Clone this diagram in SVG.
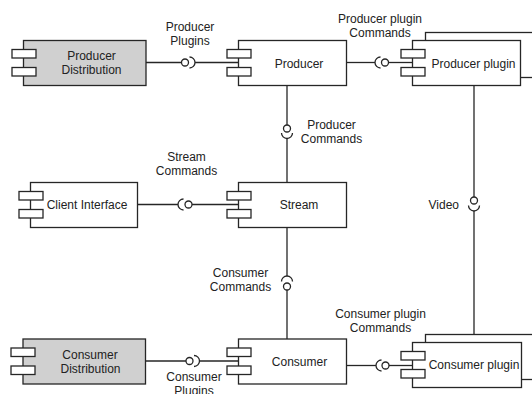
<svg xmlns="http://www.w3.org/2000/svg" width="532" height="394" viewBox="0 0 532 394">
<style>
  .box { fill: #ffffff; stroke: #262626; stroke-width: 1.3; }
  .dist { fill: #d0d0d0; stroke: #262626; stroke-width: 1.3; }
  .port { fill: #ffffff; stroke: #262626; stroke-width: 1.3; }
  .ln { fill: none; stroke: #262626; stroke-width: 1.3; }
  .ball { fill: #ffffff; stroke: #262626; stroke-width: 1.3; }
  text { font-family: "Liberation Sans", Arial, Helvetica, sans-serif; font-size: 12px; fill: #222222; text-anchor: middle; }
</style>
<rect width="532" height="394" fill="#ffffff"/>

<g id="connectors">
  <!-- Producer Distribution - Producer (Producer Plugins) -->
  <path class="ln" d="M146,62.5 H181.5"/>
  <circle class="ball" cx="185" cy="62.5" r="3.5"/>
  <path class="ln" d="M189.5,57 A5.5,5.5 0 0 1 189.5,68"/>
  <path class="ln" d="M195,62.5 H238.5"/>
  <!-- Producer - Producer plugin -->
  <path class="ln" d="M346.5,62.5 H375"/>
  <path class="ln" d="M380.5,57 A5.5,5.5 0 0 0 380.5,68"/>
  <circle class="ball" cx="385" cy="62.5" r="3.5"/>
  <path class="ln" d="M388.5,62.5 H412.5"/>
  <!-- Producer - Stream -->
  <path class="ln" d="M287,85.5 V125"/>
  <circle class="ball" cx="287" cy="128.5" r="3.5"/>
  <path class="ln" d="M281.5,133 A5.5,5.5 0 0 0 292.5,133"/>
  <path class="ln" d="M287,138.5 V182.5"/>
  <!-- Client Interface - Stream -->
  <path class="ln" d="M137.5,204.5 H178"/>
  <path class="ln" d="M183.5,199 A5.5,5.5 0 0 0 183.5,210"/>
  <circle class="ball" cx="188.5" cy="204.5" r="3.5"/>
  <path class="ln" d="M192,204.5 H238.5"/>
  <!-- Stream - Consumer -->
  <path class="ln" d="M287,227.5 V276"/>
  <path class="ln" d="M281.5,281.5 A5.5,5.5 0 0 1 292.5,281.5"/>
  <circle class="ball" cx="287" cy="286.5" r="3.5"/>
  <path class="ln" d="M287,290 V339"/>
  <!-- Consumer Distribution - Consumer -->
  <path class="ln" d="M145.5,361 H186"/>
  <circle class="ball" cx="189.5" cy="361" r="3.5"/>
  <path class="ln" d="M194,355.5 A5.5,5.5 0 0 1 194,366.5"/>
  <path class="ln" d="M199.5,361 H238.5"/>
  <!-- Consumer - Consumer plugin -->
  <path class="ln" d="M346.5,365.5 H376"/>
  <path class="ln" d="M381.5,360 A5.5,5.5 0 0 0 381.5,371"/>
  <circle class="ball" cx="385.5" cy="365.5" r="3.5"/>
  <path class="ln" d="M389,365.5 H412.5"/>
  <!-- Video -->
  <path class="ln" d="M474,85.5 V197"/>
  <circle class="ball" cx="474" cy="200.5" r="3.5"/>
  <path class="ln" d="M468.5,205.5 A5.5,5.5 0 0 0 479.5,205.5"/>
  <path class="ln" d="M474,211 V334.5"/>
</g>

<g id="labels">
  <text x="190" y="31">Producer</text>
  <text x="190" y="45">Plugins</text>
  <text x="380" y="22.5">Producer plugin</text>
  <text x="380" y="36.5">Commands</text>
  <text x="331.5" y="128.5">Producer</text>
  <text x="331.5" y="142.5">Commands</text>
  <text x="186.5" y="161">Stream</text>
  <text x="186.5" y="175">Commands</text>
  <text x="459" y="208.5" style="text-anchor:end">Video</text>
  <text x="240.5" y="276.5">Consumer</text>
  <text x="240.5" y="290.5">Commands</text>
  <text x="380.5" y="317.5">Consumer plugin</text>
  <text x="380.5" y="331.5">Commands</text>
  <text x="194" y="381">Consumer</text>
  <text x="194" y="395">Plugins</text>
</g>

<g id="producer-distribution">
  <rect class="dist" x="23.5" y="40.5" width="122.5" height="45"/>
  <rect class="port" x="12" y="49.5" width="24" height="8.5"/>
  <rect class="port" x="12" y="67.5" width="24" height="8.5"/>
  <text x="91.5" y="59.5">Producer</text>
  <text x="91.5" y="73.5">Distribution</text>
</g>

<g id="producer">
  <rect class="box" x="238.5" y="40.5" width="108" height="45"/>
  <rect class="port" x="227" y="49.5" width="24" height="8.5"/>
  <rect class="port" x="227" y="67.5" width="24" height="8.5"/>
  <text x="299" y="67.5">Producer</text>
</g>

<g id="producer-plugin">
  <rect class="box" x="425.5" y="32.5" width="108" height="45"/>
  <rect class="box" x="412.5" y="40.5" width="108" height="45"/>
  <rect class="port" x="401" y="49.5" width="24" height="8.5"/>
  <rect class="port" x="401" y="67.5" width="24" height="8.5"/>
  <text x="473.5" y="67.5">Producer plugin</text>
</g>

<g id="client-interface">
  <rect class="box" x="30.5" y="182.5" width="107" height="45"/>
  <rect class="port" x="19" y="191.5" width="24" height="8.5"/>
  <rect class="port" x="19" y="209.5" width="24" height="8.5"/>
  <text x="87" y="208.5">Client Interface</text>
</g>

<g id="stream">
  <rect class="box" x="238.5" y="182.5" width="108" height="45"/>
  <rect class="port" x="227" y="191.5" width="24" height="8.5"/>
  <rect class="port" x="227" y="209.5" width="24" height="8.5"/>
  <text x="299" y="208.5">Stream</text>
</g>

<g id="consumer-distribution">
  <rect class="dist" x="23" y="339" width="122.5" height="45"/>
  <rect class="port" x="11" y="348" width="24" height="8.5"/>
  <rect class="port" x="11" y="366" width="24" height="8.5"/>
  <text x="90" y="358.5">Consumer</text>
  <text x="90.5" y="372.5">Distribution</text>
</g>

<g id="consumer">
  <rect class="box" x="238.5" y="339" width="108" height="45"/>
  <rect class="port" x="227" y="348" width="24" height="8.5"/>
  <rect class="port" x="227" y="366" width="24" height="8.5"/>
  <text x="299.5" y="366">Consumer</text>
</g>

<g id="consumer-plugin">
  <rect class="box" x="425.5" y="334.5" width="109" height="45"/>
  <rect class="box" x="412.5" y="342.5" width="109" height="45"/>
  <rect class="port" x="401" y="351.5" width="24" height="8.5"/>
  <rect class="port" x="401" y="369.5" width="24" height="8.5"/>
  <text x="474" y="369">Consumer plugin</text>
</g>
</svg>
